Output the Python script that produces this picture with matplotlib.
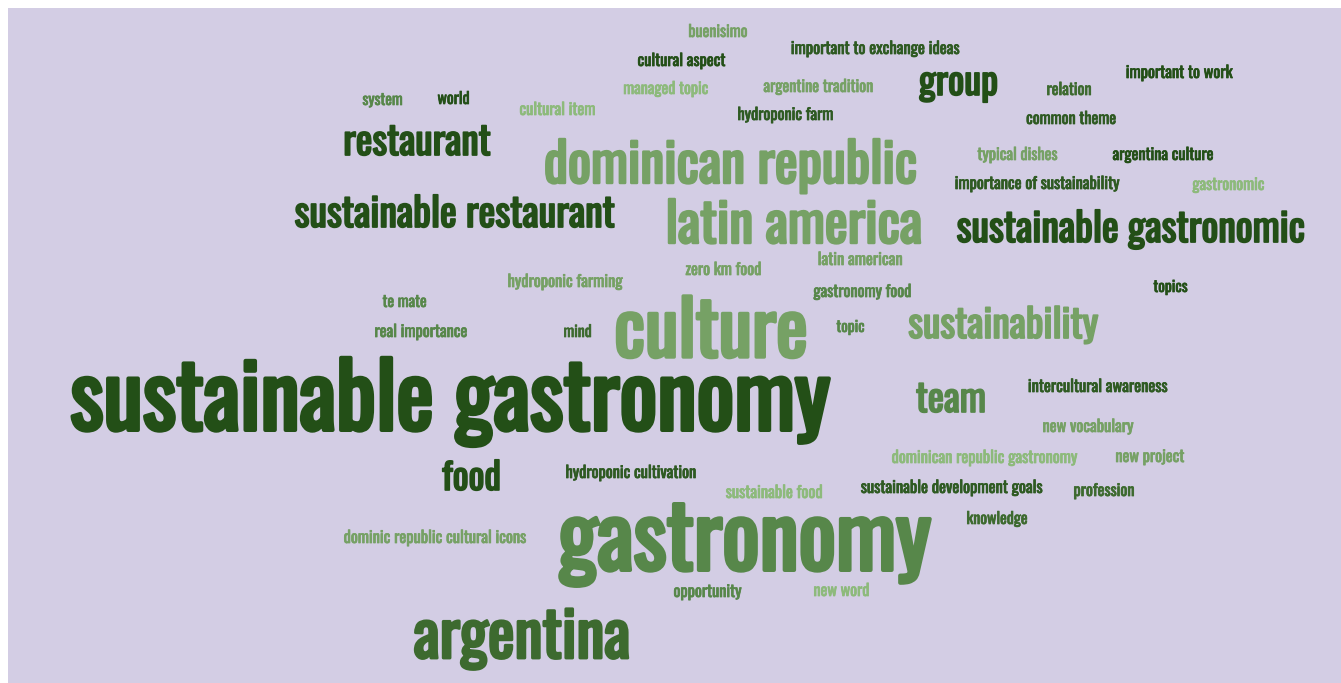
import matplotlib
matplotlib.use("Agg")
import matplotlib.pyplot as plt
import matplotlib.patheffects as pe
from matplotlib import font_manager
from matplotlib.patches import Rectangle

# words of the cloud and their colour shade (0 = darkest green)
words = [
    "buenisimo", "important to exchange ideas", "cultural aspect",
    "managed topic", "argentine tradition", "group", "relation",
    "important to work", "system", "world", "cultural item",
    "hydroponic farm", "common theme", "restaurant", "dominican republic",
    "typical dishes", "argentina culture", "importance of sustainability",
    "gastronomic", "sustainable restaurant", "latin america",
    "sustainable gastronomic", "zero km food", "latin american",
    "hydroponic farming", "gastronomy food", "te mate", "topics",
    "real importance", "mind", "culture", "topic", "sustainability",
    "sustainable gastronomy", "team", "intercultural awareness",
    "new vocabulary", "food", "hydroponic cultivation",
    "dominican republic gastronomy", "new project", "sustainable food",
    "sustainable development goals", "profession", "knowledge",
    "dominic republic cultural icons", "gastronomy", "opportunity",
    "new word", "argentina",
]
shade = [
    4, 1, 0,
    5, 4, 0, 2,
    0, 3, 0, 5,
    1, 1, 0, 4,
    4, 0, 1,
    5, 0, 4,
    0, 4, 4,
    4, 3, 3, 0,
    3, 2, 4, 3, 4,
    0, 3, 1,
    4, 0, 1,
    5, 4, 5,
    1, 2, 2,
    4, 3, 3,
    5, 2,
]
palette = ["#234f17", "#2e5a22", "#3d6a2f", "#57874a", "#76a165", "#8dba7b"]

# layout in pixels: word centre x, baseline y, word width
pos_x = [
    718, 875, 681.5,
    666, 818.5, 958.5, 1069,
    1179, 382.5, 453.5, 557.5,
    785.5, 1071.5, 417, 730.5,
    1017.5, 1163, 1037,
    1228.5, 454.5, 794,
    1130.5, 723.5, 860,
    565, 862.5, 404.5, 1170.5,
    421, 577.5, 711, 850.5, 1003,
    450.5, 951, 1097.5,
    1088, 471.5, 631,
    984.5, 1150, 774,
    951.5, 1104, 997,
    435, 744.5, 707.5,
    841.5, 522,
]
base_y = [
    37, 54, 66,
    94, 92, 95, 95,
    78, 105, 104, 115,
    120, 124, 155, 183,
    160, 160, 189,
    190, 227, 243,
    242, 275, 265,
    287, 297, 307, 292,
    337, 337, 357, 332, 338,
    430, 412, 392,
    432, 490, 478,
    463, 462, 498,
    493, 496, 524,
    543, 570, 597,
    596, 658,
]
box_w = [
    60, 170, 89,
    86, 111, 81, 46,
    108, 41, 33, 77,
    97, 91, 150, 377,
    81, 102, 166,
    73, 323, 260,
    351, 77, 86,
    116, 99, 45, 35,
    94, 29, 198, 29, 192,
    765, 72, 141,
    92, 61, 132,
    187, 70, 98,
    183, 62, 62,
    184, 377, 69,
    57, 220,
]


def pick_font():
    # the cloud uses a condensed grotesque; take the closest one installed
    wanted = ["Oswald", "Fjalla One", "Roboto Condensed", "Antonio",
              "Pathway Gothic One", "Liberation Sans Narrow"]
    fonts = font_manager.fontManager.ttflist
    for name in wanted:
        found = [f for f in fonts if f.name == name and "Italic" not in f.fname]
        if found:
            found.sort(key=lambda f: abs(int(f.weight) - 500) if str(f.weight).isdigit() else 0)
            return font_manager.FontProperties(fname=found[0].fname), True
    return font_manager.FontProperties(family="DejaVu Sans", weight="bold"), False


prop, thicken = pick_font()
STROKE = 0.045 if thicken else 0.0

fig = plt.figure(figsize=(13.41, 6.83), dpi=100)
fig.patch.set_facecolor("white")
ax = fig.add_axes([0, 0, 1, 1])
ax.set_xlim(0, 1341)
ax.set_ylim(683, 0)
ax.axis("off")
ax.add_patch(Rectangle((8, 8), 1333, 675, facecolor="#d3cde4", edgecolor="none", zorder=0))

rend = fig.canvas.get_renderer()
for i, w in enumerate(words):
    col = palette[shade[i]]
    t = ax.text(pos_x[i], base_y[i], w, ha="center", va="baseline",
                color=col, fontproperties=prop)
    t.set_fontsize(20)
    bw = t.get_window_extent(rend).width
    # scale the size so the word spans the same width as in the cloud
    fs = 20 * box_w[i] / bw
    lw = STROKE * fs
    fs = 20 * (box_w[i] - lw * 100 / 72) / bw
    t.set_fontsize(fs)
    if lw > 0:
        t.set_path_effects([pe.withStroke(linewidth=STROKE * fs, foreground=col)])

fig.savefig("out.png", dpi=100, facecolor=fig.get_facecolor())
